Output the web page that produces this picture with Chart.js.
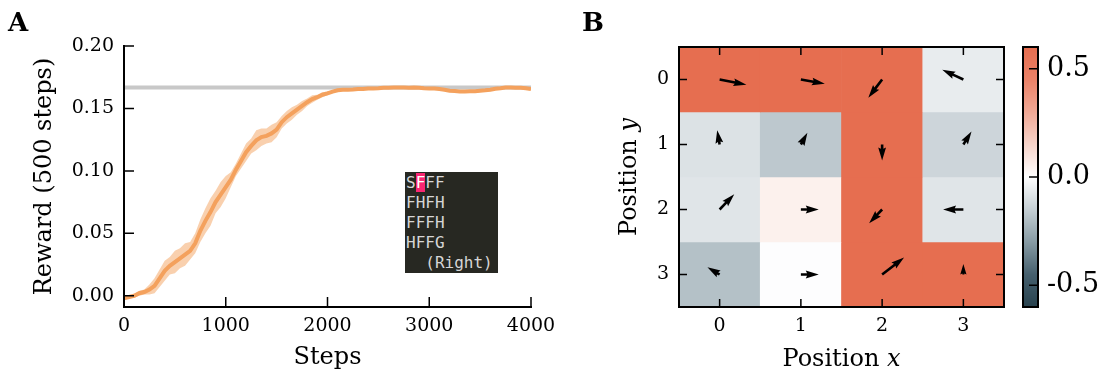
<!DOCTYPE html>
<html><head><meta charset="utf-8">
<script src="https://cdn.jsdelivr.net/npm/chart.js@4.4.1/dist/chart.umd.min.js"></script>
<style>
html,body{margin:0;padding:0;background:#fff;}
#wrap{position:relative;width:1108px;height:376px;overflow:hidden;background:#fff;}
canvas{position:absolute;top:0;}
.panel{position:absolute;font:bold 26px 'DejaVu Serif',serif;line-height:26px;color:#000;}
#inset{position:absolute;left:405px;top:172px;width:93px;height:101px;background:#272822;margin:0;padding:1px 0 0 1px;box-sizing:border-box;font:16px 'DejaVu Sans Mono',monospace;line-height:20px;color:#d6d6d6;white-space:pre;}
#inset .hl{background:#f92672;color:#fff;}
</style></head>
<body><div id="wrap">
<canvas id="cA" width="600" height="376" style="left:0px"></canvas>
<canvas id="cB" width="455" height="376" style="left:560px"></canvas>
<canvas id="cC" width="93" height="376" style="left:1015px"></canvas>
<div class="panel" style="left:8px;top:9px">A</div>
<div class="panel" style="left:582px;top:9px">B</div>
<pre id="inset">S<span class="hl">F</span>FF
FHFH
FFFH
HFFG
  (Right)</pre>
</div>
<script>
// ---------- Panel A data ----------
const steps = [0,50,100,150,200,250,300,350,400,450,500,550,600,650,700,750,800,850,900,950,
  1000,1050,1100,1150,1200,1250,1300,1350,1400,1450,1500,1550,1600,1650,1700,1750,1800,1850,1900,1950,
  2000,2050,2100,2150,2200,2250,2300,2350,2400,2450,2500,2550,2600,2650,2700,2750,2800,2850,2900,2950,
  3000,3050,3100,3150,3200,3250,3300,3350,3400,3450,3500,3550,3600,3650,3700,3750,3800,3850,3900,3950,4000];
const rewardMean = [-0.002,-0.001,0.000,0.002,0.003,0.005,0.008,0.014,0.020,0.024,0.027,0.030,0.033,0.036,0.042,0.052,0.060,0.067,0.075,0.081,
  0.087,0.093,0.101,0.108,0.115,0.120,0.1245,0.127,0.128,0.130,0.133,0.139,0.143,0.146,0.149,0.152,0.155,0.1575,0.159,0.161,
  0.162,0.1635,0.1645,0.165,0.165,0.1652,0.1655,0.1655,0.166,0.166,0.1662,0.1665,0.1665,0.1668,0.1668,0.1668,0.1665,0.1668,0.1665,0.1662,
  0.166,0.166,0.1655,0.165,0.1642,0.164,0.1635,0.1635,0.1637,0.1638,0.1642,0.1645,0.165,0.1658,0.1662,0.1667,0.1667,0.1665,0.1665,0.1662,0.1655];
const rewardSpread = [0.001,0.001,0.0015,0.002,0.002,0.004,0.006,0.007,0.008,0.007,0.009,0.008,0.009,0.007,0.008,0.009,0.010,0.011,0.009,0.010,
  0.009,0.006,0.005,0.006,0.007,0.006,0.008,0.007,0.006,0.007,0.006,0.005,0.005,0.005,0.004,0.004,0.003,0.003,0.002,0.002,
  0.0015,0.0008,0.0008,0.0008,0.0008,0.0008,0.0008,0.0008,0.0008,0.0008,0.0008,0.0008,0.0008,0.0008,0.0008,0.0008,0.0008,0.0008,0.0008,0.0008,
  0.0008,0.0008,0.0008,0.0008,0.0008,0.0008,0.0008,0.0008,0.0008,0.0008,0.0008,0.0008,0.0008,0.0008,0.0008,0.0008,0.0008,0.0008,0.0008,0.0008,0.0008];
const optimalReward = 0.1667;
const stepTicks = [0,1000,2000,3000,4000];
const rewardTicks = [0,0.05,0.10,0.15,0.20];

// ---------- Panel B data ----------
const gridXLabels = ['0','1','2','3'];
const gridYValues = [0,1,2,3];
const cellValues = [
  [0.6, 0.6, 0.6, -0.06],
  [-0.09, -0.17, 0.6, -0.13],
  [-0.08, 0.05, 0.6, -0.08],
  [-0.19, -0.005, 0.6, 0.6]
];
const arrowDX = [
  [0.33, 0.295, -0.17, -0.26],
  [-0.03, 0.08, 0.00, 0.10],
  [0.18, 0.22, -0.16, -0.25],
  [-0.15, 0.22, 0.27, 0.00]
];
const arrowDY = [
  [0.08, 0.066, 0.28, -0.15],
  [-0.22, -0.18, 0.245, -0.20],
  [-0.235, 0.00, 0.21, 0.00],
  [-0.11, 0.00, -0.26, -0.16]
];
const colorbarTicks = [-0.5, 0.0, 0.5];
const colorRange = [-0.6, 0.6];

// ---------- styles ----------
const SERIF = "'DejaVu Serif', serif";
Chart.defaults.color = '#000';
Chart.defaults.font.family = SERIF;
const CMAP = [[-0.6,[40,66,78]],[-0.45,[70,96,110]],[-0.3,[135,155,164]],[-0.15,[197,207,212]],[0,[255,255,255]],
  [0.15,[247,212,202]],[0.3,[240,168,149]],[0.45,[234,130,104]],[0.6,[230,110,80]]];
function rgb(c){return 'rgb('+c.map(Math.round).join(',')+')';}
function cmap(v){
  v = Math.max(CMAP[0][0], Math.min(CMAP[CMAP.length-1][0], v));
  for (let i=0;i<CMAP.length-1;i++){
    const [a,ca]=CMAP[i],[b,cb]=CMAP[i+1];
    if (v>=a && v<=b){const t=(v-a)/(b-a);return rgb(ca.map((x,k)=>x+(cb[k]-x)*t));}
  }
  return rgb(CMAP[CMAP.length-1][1]);
}

function makeFrame(spines, tickSides, len, spineW){
  return {id:'frame', afterDatasetsDraw(chart){
    const ctx=chart.ctx, a=chart.chartArea, xs=chart.scales.x, ys=chart.scales.y;
    ctx.save(); ctx.strokeStyle='#000'; ctx.lineWidth=1.5;
    ctx.beginPath();
    if (tickSides.includes('bottom')||tickSides.includes('top')){
      xs.ticks.forEach((t,i)=>{const p=xs.getPixelForTick(i);
        if(tickSides.includes('bottom')){ctx.moveTo(p,a.bottom);ctx.lineTo(p,a.bottom-len);}
        if(tickSides.includes('top')){ctx.moveTo(p,a.top);ctx.lineTo(p,a.top+len);}
      });
    }
    ys.ticks.forEach((t,i)=>{const p=ys.getPixelForTick(i);
      if(tickSides.includes('left')){ctx.moveTo(a.left,p);ctx.lineTo(a.left+len,p);}
      if(tickSides.includes('right')){ctx.moveTo(a.right,p);ctx.lineTo(a.right-len,p);}
    });
    ctx.stroke();
    ctx.lineWidth=spineW; ctx.lineCap='square'; ctx.beginPath();
    if(spines.includes('left')){ctx.moveTo(a.left,a.top);ctx.lineTo(a.left,a.bottom);}
    if(spines.includes('right')){ctx.moveTo(a.right,a.top);ctx.lineTo(a.right,a.bottom);}
    if(spines.includes('top')){ctx.moveTo(a.left,a.top);ctx.lineTo(a.right,a.top);}
    if(spines.includes('bottom')){ctx.moveTo(a.left,a.bottom);ctx.lineTo(a.right,a.bottom);}
    ctx.stroke(); ctx.restore();
  }};
}

// ---------- Panel A ----------
const pts = arr => steps.map((s,i)=>({x:s,y:arr[i]}));
new Chart(document.getElementById('cA'), {
  type:'line',
  data:{datasets:[
    {label:'mean', data:pts(rewardMean), borderColor:'#f4a15d', borderWidth:4, pointRadius:0, fill:false, tension:0},
    {label:'high', data:pts(rewardMean.map((m,i)=>m+rewardSpread[i])), borderWidth:0, borderColor:'rgba(0,0,0,0)', backgroundColor:'rgba(244,161,93,0.5)', pointRadius:0, fill:'+1'},
    {label:'low', data:pts(rewardMean.map((m,i)=>m-rewardSpread[i])), borderWidth:0, borderColor:'rgba(0,0,0,0)', pointRadius:0, fill:false},
    {label:'optimal', data:[{x:steps[0],y:optimalReward},{x:steps[steps.length-1],y:optimalReward}], borderColor:'#c8c8c8', borderWidth:4, pointRadius:0, fill:false}
  ]},
  options:{
    responsive:false, animation:false, devicePixelRatio:1,
    layout:{padding:{left:0,top:46,right:69,bottom:0}},
    plugins:{legend:{display:false}, tooltip:{enabled:false}},
    scales:{
      x:{type:'linear', min:0, max:4000,
        afterBuildTicks:s=>{s.ticks=stepTicks.map(v=>({value:v}));},
        afterFit:s=>{s.height=69;},
        grid:{display:false, drawTicks:false}, border:{display:false},
        ticks:{padding:8, font:{size:19}, maxRotation:0, callback:v=>String(v)},
        title:{display:true, text:'Steps', font:{size:24}, padding:{top:0,bottom:4}}},
      y:{type:'linear', min:-0.009, max:0.2,
        afterBuildTicks:s=>{s.ticks=rewardTicks.map(v=>({value:v}));},
        afterFit:s=>{s.width=124;},
        grid:{display:false, drawTicks:false}, border:{display:false},
        ticks:{padding:10, font:{size:19}, callback:v=>Number(v).toFixed(2)},
        title:{display:true, text:'Reward (500 steps)', font:{size:24}, padding:{top:30,bottom:0}}}
    }
  },
  plugins:[makeFrame(['left','bottom'],['left','bottom'],10,2)]
});

// ---------- Panel B ----------
const quiverPlugin = {id:'quiver', afterDatasetsDraw(chart){
  const ctx=chart.ctx, xs=chart.scales.x, ys=chart.scales.y;
  const w=2.6, hl=5*w, hal=4.5*w, hw=3*w;
  ctx.save(); ctx.fillStyle='#000';
  gridYValues.forEach((yv,r)=>{gridXLabels.forEach((lab,c)=>{
    const x0=xs.getPixelForValue(c), y0=ys.getPixelForValue(yv);
    const x1=xs.getPixelForValue(c+arrowDX[r][c]), y1=ys.getPixelForValue(yv+arrowDY[r][c]);
    const dx=x1-x0, dy=y1-y0, L=Math.hypot(dx,dy); if(L<0.01) return;
    let p;
    if (L>=hl) p=[[0,-w/2],[L-hal,-w/2],[L-hl,-hw/2],[L,0],[L-hl,hw/2],[L-hal,w/2],[0,w/2]];
    else {const s=L/hl; p=[[0,-w/2],[hl-hal,-w/2],[0,-hw/2],[hl,0],[0,hw/2],[hl-hal,w/2],[0,w/2]].map(q=>[q[0]*s,q[1]*s]);}
    const ang=Math.atan2(dy,dx), co=Math.cos(ang), si=Math.sin(ang);
    ctx.beginPath();
    p.forEach((q,i)=>{const X=x0+q[0]*co-q[1]*si, Y=y0+q[0]*si+q[1]*co; if(i===0)ctx.moveTo(X,Y); else ctx.lineTo(X,Y);});
    ctx.closePath(); ctx.fill();
  });});
  ctx.restore();
}};
function drawMixed(ctx, x, y, rot, parts){
  ctx.save(); ctx.translate(x,y); if(rot) ctx.rotate(rot);
  let total=0; parts.forEach(p=>{ctx.font=p[1]; p.w=ctx.measureText(p[0]).width; total+=p.w;});
  let cx=-total/2; ctx.textBaseline='middle'; ctx.textAlign='left'; ctx.fillStyle='#000';
  parts.forEach(p=>{ctx.font=p[1]; ctx.fillText(p[0],cx,0); cx+=p.w;});
  ctx.restore();
}
const titlesB = {id:'titlesB', afterDraw(chart){
  const a=chart.chartArea, ctx=chart.ctx;
  drawMixed(ctx,(a.left+a.right)/2,360,0,[['Position ',"24px "+SERIF],['x',"italic 24px "+SERIF]]);
  drawMixed(ctx,70,(a.top+a.bottom)/2,-Math.PI/2,[['Position ',"24px "+SERIF],['y',"italic 24px "+SERIF]]);
}};
new Chart(document.getElementById('cB'), {
  type:'bar',
  data:{labels:gridXLabels, datasets:gridYValues.map((yv,r)=>({
    label:'row '+yv,
    data:gridXLabels.map(()=>[yv-0.5,yv+0.5]),
    backgroundColor:cellValues[r].map(cmap),
    borderWidth:0, barPercentage:1, categoryPercentage:1, grouped:false
  }))},
  options:{
    responsive:false, animation:false, devicePixelRatio:1,
    layout:{padding:{left:0,top:47,right:11,bottom:0}},
    plugins:{legend:{display:false}, tooltip:{enabled:false}},
    scales:{
      x:{type:'category', offset:true, afterFit:s=>{s.height=69;},
        grid:{display:false, drawTicks:false}, border:{display:false},
        ticks:{padding:8, font:{size:19}, maxRotation:0}},
      y:{type:'linear', reverse:true, min:-0.5, max:3.5,
        afterBuildTicks:s=>{s.ticks=gridYValues.map(v=>({value:v}));},
        afterFit:s=>{s.width=119;},
        grid:{display:false, drawTicks:false}, border:{display:false},
        ticks:{padding:10, font:{size:19}, callback:v=>String(v)}}
    }
  },
  plugins:[quiverPlugin, makeFrame(['left','right','top','bottom'],['left','right','top','bottom'],8,2), titlesB]
});

// ---------- Colorbar ----------
new Chart(document.getElementById('cC'), {
  type:'bar',
  data:{labels:[''], datasets:[{label:'colorbar', data:[colorRange],
    backgroundColor:(c)=>{const ch=c.chart, ys=ch.scales.y; if(!ch.chartArea||!ys) return '#fff';
      const g=ch.ctx.createLinearGradient(0,ys.getPixelForValue(colorRange[0]),0,ys.getPixelForValue(colorRange[1]));
      CMAP.forEach(([v,col])=>g.addColorStop((v-colorRange[0])/(colorRange[1]-colorRange[0]),rgb(col)));
      return g;},
    borderWidth:0, barPercentage:1, categoryPercentage:1}]},
  options:{
    responsive:false, animation:false, devicePixelRatio:1,
    layout:{padding:{left:8,top:47,right:0,bottom:69}},
    plugins:{legend:{display:false}, tooltip:{enabled:false}},
    scales:{
      x:{display:false},
      y:{position:'right', min:colorRange[0], max:colorRange[1],
        afterBuildTicks:s=>{s.ticks=colorbarTicks.map(v=>({value:v}));},
        afterFit:s=>{s.width=70;},
        grid:{display:false, drawTicks:false}, border:{display:false},
        ticks:{padding:9, font:{size:27}, callback:v=>Number(v).toFixed(1)}}
    }
  },
  plugins:[makeFrame(['left','right','top','bottom'],['right'],9,2)]
});
</script>
</body></html>
